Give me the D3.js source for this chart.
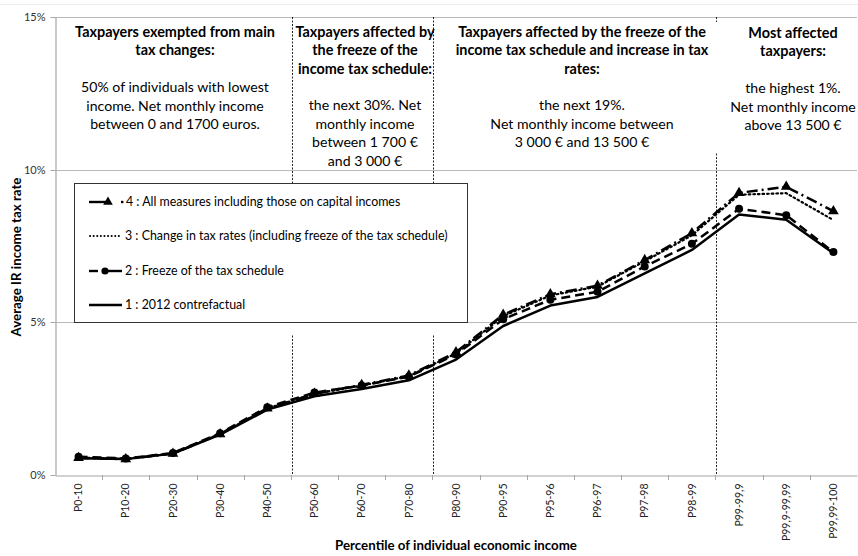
<!DOCTYPE html>
<html><head><meta charset="utf-8">
<script src="https://cdn.jsdelivr.net/npm/d3@7"></script>
<style>
html,body{margin:0;padding:0;background:#fff;}
svg{display:block;font-family:Lato,"Open Sans",sans-serif;}
</style></head>
<body><svg id="c" width="858" height="556"></svg>
<script>
const categories = ["P0-10","P10-20","P20-30","P30-40","P40-50","P50-60","P60-70","P70-80","P80-90","P90-95","P95-96","P96-97","P97-98","P98-99","P99-99,9","P99,9-99,99","P99,99-100"];
const s1Contrefactual = [0.55,0.52,0.70,1.32,2.14,2.58,2.82,3.10,3.78,4.88,5.55,5.83,6.60,7.37,8.53,8.36,7.26];
const s2Freeze        = [0.60,0.54,0.72,1.37,2.22,2.70,2.93,3.22,3.95,5.10,5.74,6.00,6.83,7.57,8.72,8.51,7.30];
const s3Rates         = [0.57,0.53,0.71,1.35,2.18,2.66,2.93,3.24,3.98,5.20,5.88,6.17,7.00,7.85,9.18,9.23,8.35];
const s4All           = [0.56,0.52,0.70,1.34,2.18,2.66,2.95,3.26,4.02,5.25,5.92,6.20,7.04,7.92,9.24,9.44,8.64];
const yTicks = [0,5,10,15];
const yTickLabels = ["0%","5%","10%","15%"];
const legendLabels = ["4 : All measures including those on capital incomes","3 : Change in tax rates (including freeze of the tax schedule)","2 : Freeze of the tax schedule","1 : 2012 contrefactual"];
const dividerAfter = ["P40-50","P70-80","P98-99"];
const boxTitles = [
  ["Taxpayers exempted from main","tax changes:"],
  ["Taxpayers affected by","the freeze of the","income tax schedule:"],
  ["Taxpayers affected by the freeze of the","income tax schedule and increase in tax","rates:"],
  ["Most affected","taxpayers:"]
];
const boxBodies = [
  ["50% of individuals with lowest","income. Net monthly income","between 0 and 1700 euros."],
  ["the next 30%. Net","monthly income","between 1 700 €","and 3 000 €"],
  ["the next 19%.","Net monthly income between","3 000 € and 13 500 €"],
  ["the highest 1%.","Net monthly income","above 13 500 €"]
];
const xTitle = "Percentile of individual economic income";
const yTitle = "Average IR income tax rate";

const svg = d3.select("#c");
const L = 55, R = 857, T = 17, B = 475;
const x = d3.scaleBand().domain(categories).range([L, R]).padding(0);
const y = d3.scaleLinear().domain([0,15]).range([B, T]);
const cx = c => x(c) + x.bandwidth()/2;

// faint chart border top
svg.append("line").attr("x1",0).attr("x2",858).attr("y1",4.5).attr("y2",4.5).attr("stroke","#ececec");

// gridlines
svg.append("g").selectAll("line").data(yTicks.filter(d=>d>0)).join("line")
  .attr("x1",L).attr("x2",R).attr("y1",d=>Math.round(y(d))+0.5).attr("y2",d=>Math.round(y(d))+0.5)
  .attr("stroke","#b9b9b9").attr("stroke-width",1.2);

// y axis
const ya = svg.append("g").attr("transform",`translate(${L+0.5},0)`)
  .call(d3.axisLeft(y).tickValues(yTicks).tickFormat((d,i)=>yTickLabels[i]).tickSize(5).tickSizeOuter(0));
ya.select(".domain").attr("stroke","#a6a6a6").attr("stroke-width",1.2);
ya.selectAll(".tick line").attr("stroke","#a6a6a6");
ya.selectAll(".tick text").attr("font-family","Lato").attr("font-size",11).attr("fill","#333").attr("x",-10);
ya.selectAll(".tick").attr("transform",d=>`translate(0,${Math.round(y(d))+0.5})`);

// x axis
const xa = svg.append("g").attr("transform",`translate(0,${Math.round(y(0))+0.5})`)
  .call(d3.axisBottom(x).tickSize(0).tickSizeOuter(0));
xa.select(".domain").attr("stroke","#a6a6a6").attr("stroke-width",1.2);
xa.selectAll(".tick text").attr("font-family","Lato").attr("font-size",10.5).attr("fill","#222")
  .attr("transform","rotate(-90)").attr("text-anchor","end").attr("x",-8).attr("y",0).attr("dy","0.35em");
svg.append("g").selectAll("line").data(categories.slice(1)).join("line")
  .attr("x1",d=>Math.round(x(d))+0.5).attr("x2",d=>Math.round(x(d))+0.5)
  .attr("y1",Math.round(y(0))).attr("y2",Math.round(y(0))+5).attr("stroke","#a6a6a6");

// dividers
svg.append("g").selectAll("line").data(dividerAfter).join("line")
  .attr("x1",d=>Math.round(x(d)+x.bandwidth())+1.5).attr("x2",d=>Math.round(x(d)+x.bandwidth())+1.5)
  .attr("y1",T).attr("y2",B)
  .attr("stroke","#222").attr("stroke-width",1).attr("stroke-dasharray","2,1.5");

// white text box for last group
svg.append("rect").attr("x",702).attr("y",22).attr("width",156).attr("height",131).attr("fill","#fff");

// annotation texts
const boxCenters = [175, 365, 582, 793];
const titleY = [37,37,37,38];
const bodyY = [92,110,110,93];
const ann = svg.append("g").attr("font-family","Lato").attr("fill","#000").attr("text-anchor","middle");
boxTitles.forEach((lines,i)=>{
  lines.forEach((t,j)=>{
    ann.append("text").attr("x",boxCenters[i]).attr("y",titleY[i]+j*18.3)
      .attr("font-size",14.4).attr("font-weight","bold").text(t);
  });
});
boxBodies.forEach((lines,i)=>{
  lines.forEach((t,j)=>{
    ann.append("text").attr("x",boxCenters[i]).attr("y",bodyY[i]+j*18.7)
      .attr("font-size",14.1).text(t);
  });
});

// series
const series = [
  {vals:s1Contrefactual, dash:null, width:2.5, marker:null},
  {vals:s2Freeze, dash:"9,5", width:2.5, marker:"circle"},
  {vals:s3Rates, dash:"1.6,3", width:2.2, marker:null, cap:"round"},
  {vals:s4All, dash:"11,4,2,4", width:2.5, marker:"triangle"}
];
const line = d3.line().x((d,i)=>cx(categories[i])).y(d=>y(d));
const gS = svg.append("g");
series.forEach(s=>{
  gS.append("path").attr("d",line(s.vals)).attr("fill","none").attr("stroke","#000")
    .attr("stroke-width",s.width).attr("stroke-dasharray",s.dash).attr("stroke-linejoin","round")
    .attr("stroke-linecap",s.cap||"butt");
});
series.forEach(s=>{
  if(s.marker==="circle"){
    gS.append("g").selectAll("circle").data(s.vals).join("circle")
      .attr("cx",(d,i)=>cx(categories[i])).attr("cy",d=>y(d)).attr("r",4).attr("fill","#000");
  } else if(s.marker==="triangle"){
    gS.append("g").selectAll("path").data(s.vals).join("path")
      .attr("d",d3.symbol(d3.symbolTriangle,50))
      .attr("transform",(d,i)=>`translate(${cx(categories[i])},${y(d)})`).attr("fill","#000");
  }
});

// legend
const lg = svg.append("g");
lg.append("rect").attr("x",74).attr("y",183).attr("width",393).attr("height",152).attr("fill","#fff");
lg.append("rect").attr("x",74.5).attr("y",183.5).attr("width",393).attr("height",139).attr("fill","#fff")
  .attr("stroke","#333").attr("stroke-width",1);
const legY = [202,236,271,305];
const legSeries = [series[3],series[2],series[1],series[0]];
legSeries.forEach((s,i)=>{
  const yy = legY[i];
  const g = lg.append("g");
  if(s.marker==="triangle"){
    g.append("line").attr("x1",89).attr("x2",107).attr("y1",yy).attr("y2",yy).attr("stroke","#000").attr("stroke-width",2.4);
    g.append("path").attr("d",d3.symbol(d3.symbolTriangle,40)).attr("transform",`translate(108,${yy})`).attr("fill","#000");
    g.append("rect").attr("x",121).attr("y",yy-1.2).attr("width",2.4).attr("height",2.4).attr("fill","#000");
  } else if(s.marker==="circle"){
    g.append("line").attr("x1",89).attr("x2",98).attr("y1",yy).attr("y2",yy).attr("stroke","#000").attr("stroke-width",2.4);
    g.append("line").attr("x1",103).attr("x2",122).attr("y1",yy).attr("y2",yy).attr("stroke","#000").attr("stroke-width",2.4);
    g.append("circle").attr("cx",105).attr("cy",yy).attr("r",3.6).attr("fill","#000");
  } else if(s.dash){
    g.append("line").attr("x1",90).attr("x2",122).attr("y1",yy).attr("y2",yy).attr("stroke","#000")
      .attr("stroke-width",2).attr("stroke-dasharray","0.1,3.5").attr("stroke-linecap","round");
  } else {
    g.append("line").attr("x1",89).attr("x2",122).attr("y1",yy).attr("y2",yy).attr("stroke","#000").attr("stroke-width",2.4);
  }
  g.append("text").attr("x",i===0?126:125).attr("y",yy).attr("dy","0.35em").attr("font-family","Lato")
    .attr("font-size",12.4).attr("fill","#000").text(legendLabels[i]);
});

// axis titles
svg.append("text").attr("x",(L+R)/2).attr("y",550).attr("text-anchor","middle").attr("font-family","Lato")
  .attr("font-weight","bold").attr("font-size",13.3).text(xTitle);
svg.append("text").attr("transform",`translate(21,${(T+B)/2+11}) rotate(-90)`).attr("text-anchor","middle")
  .attr("font-family","Lato").attr("font-weight","bold").attr("font-size",13.3).text(yTitle);
</script></body></html>
